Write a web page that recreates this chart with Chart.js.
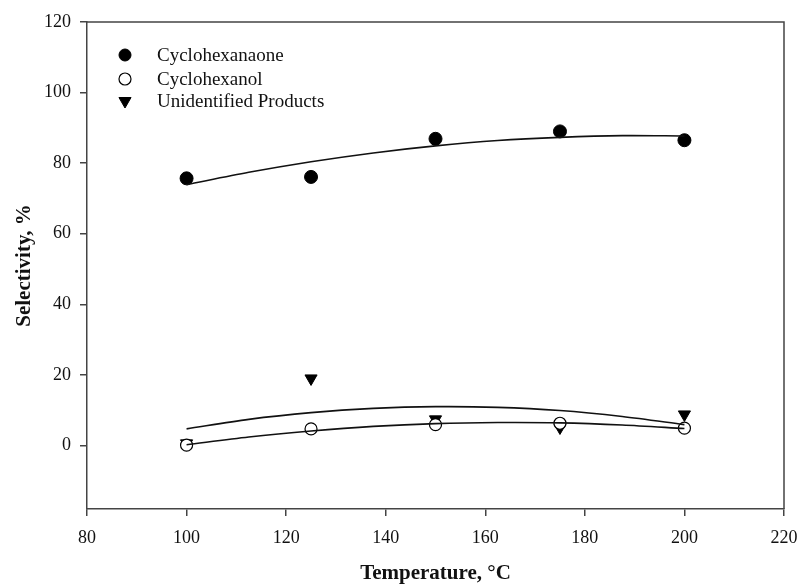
<!DOCTYPE html>
<html>
<head>
<meta charset="utf-8">
<script src="https://cdn.jsdelivr.net/npm/chart.js@4/dist/chart.umd.min.js"></script>
<style>
  html, body { margin: 0; padding: 0; background: #fff; }
  #wrap { width: 800px; height: 588px; position: relative; }
</style>
</head>
<body>
<div id="wrap"><canvas id="chart"></canvas></div>
<script>
// measured points
const temps = [100, 125, 150, 175, 200];
const cyclohexanone = [75.7, 76.1, 86.9, 89.0, 86.5];
const cyclohexanol = [0.1, 4.7, 5.9, 6.3, 4.9];
const unidentified = [0.6, 19.0, 7.4, 5.1, 8.8];

// fitted curves
const fitTemps = [100, 112.5, 125, 137.5, 150, 162.5, 175, 187.5, 200];
const fitCyclohexanone = [73.9, 77.4, 80.4, 82.9, 84.9, 86.4, 87.3, 87.8, 87.7];
const fitCyclohexanol = [0.2, 2.4, 4.1, 5.4, 6.2, 6.5, 6.4, 5.8, 4.8];
const fitUnidentified = [4.7, 7.4, 9.3, 10.5, 11.0, 10.8, 9.9, 8.2, 5.9];

const xTicks = [80, 100, 120, 140, 160, 180, 200, 220];
const yTicks = [0, 20, 40, 60, 80, 100, 120];

const legendLabels = ['Cyclohexanaone', 'Cyclohexanol', 'Unidentified Products'];

const serif = '"Liberation Serif", "Times New Roman", serif';
const axisColor = '#444';

function pts(xs, ys) {
    return xs.map((x, i) => ({x: x, y: ys[i]}));
}

function fitLine(ys) {
    return {
        data: pts(fitTemps, ys),
        showLine: true,
        borderColor: '#111',
        borderWidth: 1.6,
        pointRadius: 0,
        tension: 0.3,
        fill: false
    };
}

const markerSets = [
    {label: legendLabels[0], data: pts(temps, cyclohexanone), pointStyle: 'circle', pointRadius: 6.5,
     backgroundColor: '#000', borderColor: '#000', borderWidth: 1},
    {label: legendLabels[1], data: pts(temps, cyclohexanol), pointStyle: 'circle', pointRadius: 6,
     backgroundColor: '#fff', borderColor: '#000', borderWidth: 1.2},
    {label: legendLabels[2], data: pts(temps, unidentified), pointStyle: 'triangle', pointRotation: 180, pointRadius: 7,
     backgroundColor: '#000', borderColor: '#000', borderWidth: 1}
];

// box on top/right + legend inside the plot
const boxAndLegend = {
    id: 'boxAndLegend',
    beforeDatasetsDraw(chart) {
        const a = chart.chartArea;
        const ctx = chart.ctx;
        ctx.save();
        ctx.strokeStyle = axisColor;
        ctx.lineWidth = 1.5;
        ctx.beginPath();
        ctx.moveTo(a.left, a.top);
        ctx.lineTo(a.right, a.top);
        ctx.lineTo(a.right, a.bottom);
        ctx.stroke();
        ctx.restore();
    },
    afterDraw(chart) {
        const ctx = chart.ctx;
        ctx.save();
        ctx.font = '19px ' + serif;
        ctx.textBaseline = 'middle';
        const rows = [55, 79, 101];
        markerSets.forEach((ds, i) => {
            ctx.fillStyle = ds.backgroundColor;
            ctx.strokeStyle = ds.borderColor;
            ctx.lineWidth = ds.borderWidth;
            Chart.helpers.drawPoint(ctx, {
                pointStyle: ds.pointStyle,
                rotation: ds.pointRotation || 0,
                radius: ds.pointStyle === 'triangle' ? 7 : 6,
                borderWidth: ds.borderWidth
            }, 125, rows[i]);
            ctx.fillStyle = '#111';
            ctx.fillText(ds.label, 157, rows[i] + 1);
        });
        ctx.restore();
    }
};

new Chart(document.getElementById('chart'), {
    type: 'scatter',
    data: {
        datasets: [
            fitLine(fitCyclohexanone),
            fitLine(fitUnidentified),
            fitLine(fitCyclohexanol),
            ...markerSets
        ]
    },
    options: {
        responsive: true,
        maintainAspectRatio: false,
        animation: false,
        layout: {padding: {left: 0, right: 16, top: 22, bottom: 0}},
        plugins: {
            legend: {display: false},
            tooltip: {enabled: false}
        },
        scales: {
            x: {
                type: 'linear',
                min: 80,
                max: 220,
                afterBuildTicks(scale) { scale.ticks = xTicks.map(v => ({value: v})); },
                afterFit(scale) {
                    scale.height = 79;
                    scale.paddingLeft = 0;
                    scale.paddingRight = 0;
                },
                border: {display: true, color: axisColor, width: 1.5},
                grid: {display: true, drawOnChartArea: false, drawTicks: true, tickLength: 7, color: axisColor, lineWidth: 1.5},
                ticks: {color: '#111', padding: 11, maxRotation: 0, font: {family: serif, size: 18}},
                title: {display: true, text: 'Temperature, °C', color: '#111', padding: {top: 2, bottom: 2},
                        font: {family: serif, size: 21, weight: 'bold'}}
            },
            y: {
                type: 'linear',
                min: -18,
                max: 120,
                afterBuildTicks(scale) { scale.ticks = yTicks.map(v => ({value: v})); },
                afterFit(scale) {
                    scale.width = 87;
                    scale.paddingTop = 0;
                    scale.paddingBottom = 0;
                },
                border: {display: true, color: axisColor, width: 1.5},
                grid: {display: true, drawOnChartArea: false, drawTicks: true, tickLength: 7, color: axisColor, lineWidth: 1.5},
                ticks: {color: '#111', padding: 9, font: {family: serif, size: 18}},
                title: {display: true, text: 'Selectivity, %', color: '#111', padding: {top: 12, bottom: 12},
                        font: {family: serif, size: 21, weight: 'bold'}}
            }
        }
    },
    plugins: [boxAndLegend]
});
</script>
</body>
</html>
